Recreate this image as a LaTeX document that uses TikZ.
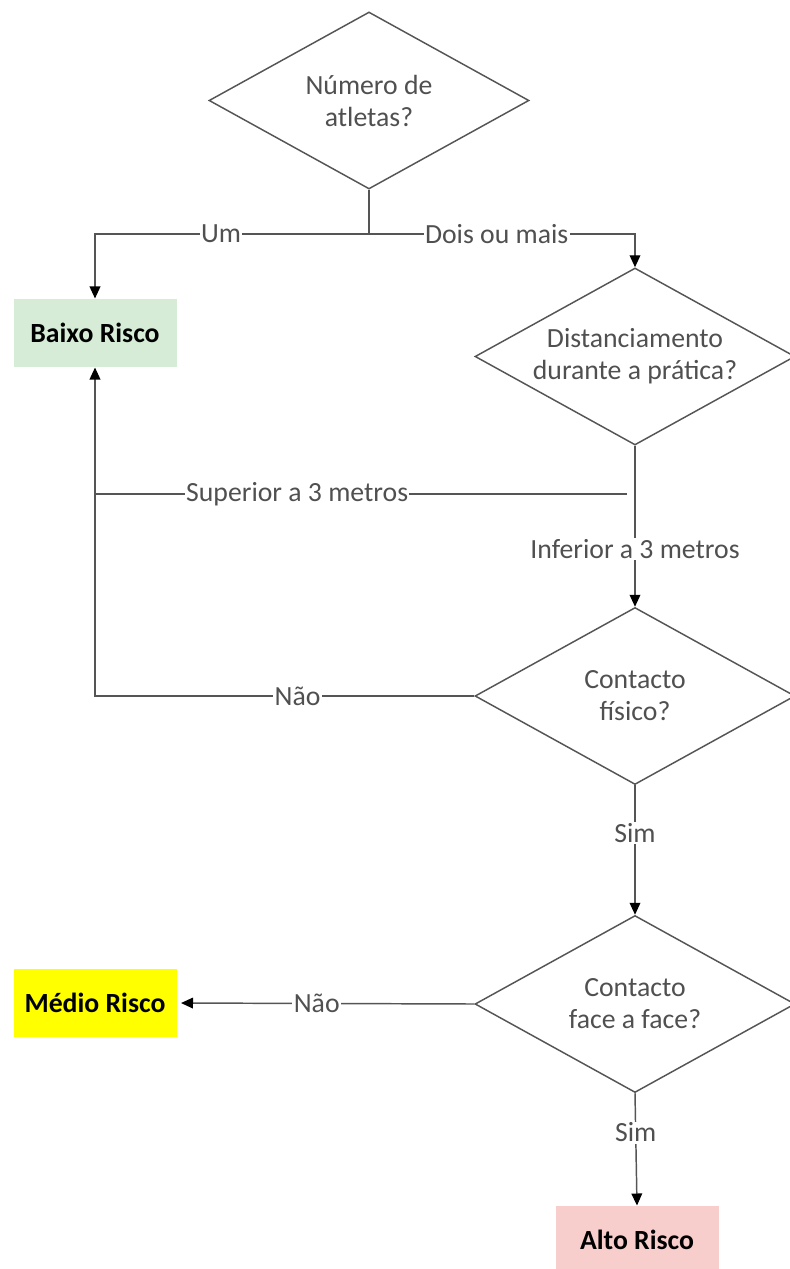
\documentclass[tikz,border=0pt]{standalone}
\usepackage{fontspec}
\setmainfont{Carlito}
\usetikzlibrary{shapes.geometric,arrows.meta}

\definecolor{lineGray}{RGB}{85,85,85}
\definecolor{textGray}{RGB}{80,80,80}
\definecolor{lowGreen}{RGB}{214,236,214}
\definecolor{midYellow}{RGB}{255,255,0}
\definecolor{highPink}{RGB}{248,206,204}

\tikzset{every picture/.style={line width=0.75pt}}
\tikzset{
  decision/.style={diamond, aspect=1.8, draw=lineGray, line width=1.1pt, minimum width=240pt, minimum height=132.75pt,
    inner sep=0pt, align=center, text=textGray, font=\fontsize{20.8}{24}\selectfont},
  riskbox/.style={minimum width=122.25pt, minimum height=51pt, inner sep=0pt,
    font=\bfseries\fontsize{20.8}{24}\selectfont, text=black},
  link/.style={draw=lineGray, line width=1.1pt},
  arrowlink/.style={link, -{Triangle[length=9pt,width=8pt,color=black]}},
  lbl/.style={fill=white, inner sep=1pt, text=textGray, font=\fontsize{20.8}{24}\selectfont}
}

\begin{document}
\begin{tikzpicture}[x=0.75pt,y=0.75pt,yscale=-1,xscale=1]
\path[use as bounding box] (0,0) rectangle (789,1269); %set diagram size

% Decisions
\node[decision] (atletas) at (369,100.5) {Número de\\atletas?};
\node[decision] (distancia) at (635,356.5) {Distanciamento\\durante a prática?};
\node[decision] (fisico) at (635,696) {Contacto\\físico?};
\node[decision] (face) at (635,1004) {Contacto\\face a face?};

% Risk boxes
\node[riskbox, fill=lowGreen] (baixo) at (95,333) {Baixo Risco};
\node[riskbox, fill=midYellow] (medio) at (95,1003) {Médio Risco};
\node[riskbox, fill=highPink] (alto) at (637,1240) {Alto Risco};

% Junctions
\coordinate (split) at (369,234);
\coordinate (gap) at (635,494);
\coordinate (leftgap) at (baixo.south |- gap);

% Connectors
\draw[link] (atletas.south) -- (split);
\draw[arrowlink] (split) -| node[lbl, pos=0.27] {Um} (baixo.north);
\draw[arrowlink] (split) -| node[lbl, pos=0.24] {Dois ou mais} (distancia.north);
\draw[arrowlink] (distancia.south) -- node[lbl, pos=0.64] {Inferior a 3 metros} (fisico.north);
\draw[link] ([xshift=-6]gap) -- node[lbl, pos=0.62] {Superior a 3 metros} (leftgap);
\draw[arrowlink] (leftgap) -- (baixo.south);
\draw[link] (fisico.west) -| node[lbl, pos=0.233] {Não} (leftgap);
\draw[arrowlink] (fisico.south) -- node[lbl, pos=0.37] {Sim} (face.north);
\draw[arrowlink, shorten >=3pt] (face.west) -- node[lbl, pos=0.53] {Não} (medio.east);
\draw[arrowlink] (face.south) -- node[lbl, pos=0.35] {Sim} (alto.north);

\end{tikzpicture}
\end{document}
